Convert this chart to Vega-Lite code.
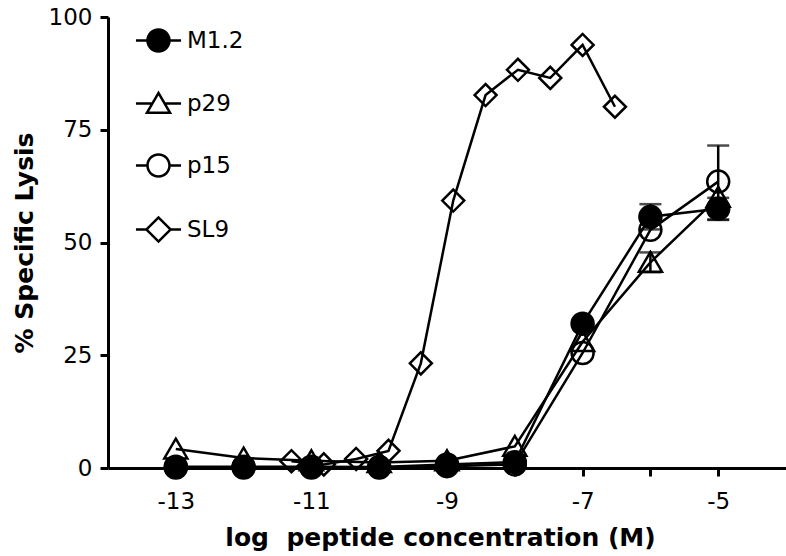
{
  "$schema": "https://vega.github.io/schema/vega-lite/v6.json",
  "width": 678,
  "height": 451,
  "autosize": {"type": "none"},
  "padding": {"left": 108, "top": 17, "right": 0, "bottom": 88},
  "background": "white",
  "config": {
    "view": {"stroke": null},
    "font": "DejaVu Sans",
    "axis": {
      "grid": false,
      "ticks": true,
      "domainColor": "black",
      "domainWidth": 3,
      "tickColor": "black",
      "tickWidth": 3,
      "tickSize": 8,
      "labelFont": "DejaVu Sans",
      "labelFontSize": 23,
      "labelColor": "black",
      "titleFont": "DejaVu Sans",
      "titleFontSize": 25,
      "titleFontWeight": "bold",
      "titleColor": "black"
    },
    "legend": {
      "labelFont": "DejaVu Sans",
      "labelFontSize": 23,
      "labelColor": "black"
    }
  },
  "datasets": {
    "pts": [
      {"series": "SL9", "logc": -11.294, "lysis": 1.5},
      {"series": "SL9", "logc": -10.817, "lysis": 0.8},
      {"series": "SL9", "logc": -10.340, "lysis": 2.0},
      {"series": "SL9", "logc": -9.863, "lysis": 3.8},
      {"series": "SL9", "logc": -9.386, "lysis": 23.2},
      {"series": "SL9", "logc": -8.908, "lysis": 59.3},
      {"series": "SL9", "logc": -8.431, "lysis": 82.7},
      {"series": "SL9", "logc": -7.954, "lysis": 88.3},
      {"series": "SL9", "logc": -7.477, "lysis": 86.5},
      {"series": "SL9", "logc": -7.0, "lysis": 93.8},
      {"series": "SL9", "logc": -6.523, "lysis": 80.1},
      {"series": "p15", "logc": -13, "lysis": 0.1},
      {"series": "p15", "logc": -12, "lysis": 0.1},
      {"series": "p15", "logc": -11, "lysis": 0.1},
      {"series": "p15", "logc": -10, "lysis": 0.1},
      {"series": "p15", "logc": -9, "lysis": 0.4},
      {"series": "p15", "logc": -8, "lysis": 0.8},
      {"series": "p15", "logc": -7, "lysis": 25.5},
      {"series": "p15", "logc": -6, "lysis": 52.8},
      {"series": "p15", "logc": -5, "lysis": 63.5},
      {"series": "p29", "logc": -13, "lysis": 4.2},
      {"series": "p29", "logc": -12, "lysis": 2.2},
      {"series": "p29", "logc": -11, "lysis": 1.6},
      {"series": "p29", "logc": -10, "lysis": 1.2},
      {"series": "p29", "logc": -9, "lysis": 1.6},
      {"series": "p29", "logc": -8, "lysis": 4.8},
      {"series": "p29", "logc": -7, "lysis": 28},
      {"series": "p29", "logc": -6, "lysis": 45.6},
      {"series": "p29", "logc": -5, "lysis": 60},
      {"series": "M1.2", "logc": -13, "lysis": 0.3},
      {"series": "M1.2", "logc": -12, "lysis": 0.3},
      {"series": "M1.2", "logc": -11, "lysis": 0.3},
      {"series": "M1.2", "logc": -10, "lysis": 0.2},
      {"series": "M1.2", "logc": -9, "lysis": 0.8},
      {"series": "M1.2", "logc": -8, "lysis": 1.3},
      {"series": "M1.2", "logc": -7, "lysis": 32},
      {"series": "M1.2", "logc": -6, "lysis": 55.7},
      {"series": "M1.2", "logc": -5, "lysis": 57.5}
    ],
    "err": [
      {"series": "M1.2", "logc": -6, "lo": 52.9, "hi": 58.5},
      {"series": "M1.2", "logc": -5, "lo": 55.1, "hi": 59.9},
      {"series": "p29", "logc": -6, "lo": 43.4, "hi": 47.8},
      {"series": "p15", "logc": -5, "lo": 55.0, "hi": 71.5}
    ]
  },
  "layer": [
    {
      "data": {"name": "err"},
      "mark": {"type": "rule", "stroke": "black", "strokeWidth": 2.5},
      "encoding": {
        "x": {"field": "logc", "type": "quantitative", "scale": {"domain": [-14, -4], "nice": false, "zero": false},
          "axis": {
            "values": [-13, -12, -11, -10, -9, -8, -7, -6, -5],
            "ticks": true,
            "tickSize": 8,
            "labelExpr": "datum.value % 2 == 0 ? '' : '' + datum.value",
            "labelPadding": 14,
            "title": "log\u00a0 peptide concentration (M)",
            "titleX": 332,
            "titleY": 77,
            "titleAlign": "center",
            "titleBaseline": "alphabetic"
          }},
        "y": {"field": "lo", "type": "quantitative", "scale": {"domain": [0, 100], "nice": false},
          "axis": {
            "values": [0, 25, 50, 75, 100],
            "labelPadding": 8,
            "title": "% Specific Lysis",
            "titleX": -76,
            "titleBaseline": "alphabetic"
          }},
        "y2": {"field": "hi"}
      }
    },
    {
      "data": {"name": "err"},
      "mark": {"type": "tick", "orient": "horizontal", "color": "black", "size": 22, "thickness": 2.5},
      "encoding": {
        "x": {"field": "logc", "type": "quantitative"},
        "y": {"field": "lo", "type": "quantitative"}
      }
    },
    {
      "data": {"name": "err"},
      "mark": {"type": "tick", "orient": "horizontal", "color": "black", "size": 22, "thickness": 2.5},
      "encoding": {
        "x": {"field": "logc", "type": "quantitative"},
        "y": {"field": "hi", "type": "quantitative"}
      }
    },
    {
      "data": {"name": "pts"},
      "mark": {"type": "line", "stroke": "black", "strokeWidth": 2.5},
      "encoding": {
        "x": {"field": "logc", "type": "quantitative"},
        "y": {"field": "lysis", "type": "quantitative"},
        "detail": {"field": "series"}
      }
    },
    {
      "data": {"name": "pts"},
      "mark": {"type": "point", "stroke": "black", "strokeWidth": 2.5, "size": 484, "opacity": 1},
      "encoding": {
        "x": {"field": "logc", "type": "quantitative"},
        "y": {"field": "lysis", "type": "quantitative"},
        "shape": {"field": "series", "type": "nominal",
          "scale": {"domain": ["M1.2", "p29", "p15", "SL9"], "range": ["circle", "M0,-0.95L1.05,0.85L-1.05,0.85Z", "circle", "diamond"]},
          "legend": null},
        "fill": {"field": "series", "type": "nominal",
          "scale": {"domain": ["M1.2", "p29", "p15", "SL9"], "range": ["black", "transparent", "transparent", "transparent"]},
          "legend": null}
      }
    },
    {
      "data": {"name": "pts"},
      "mark": {"type": "point", "filled": true, "fill": "black", "strokeWidth": 0, "size": 484, "opacity": 0},
      "encoding": {
        "x": {"field": "logc", "type": "quantitative"},
        "y": {"field": "lysis", "type": "quantitative"},
        "shape": {"field": "series", "type": "nominal",
          "scale": {"domain": ["M1.2", "p29", "p15", "SL9"], "range": [
            "M-2.05,-0.114H-1V0.114H-2.05Z M1,-0.114H2.05V0.114H1Z M1.114,0A1.114,1.114,0,1,1,-1.114,0A1.114,1.114,0,1,1,1.114,0Z",
            "M-2.05,-0.114H-0.55V0.114H-2.05Z M0.55,-0.114H2.05V0.114H0.55Z M0,-1.176L1.248,0.964L-1.248,0.964Z M0,-0.724L-0.852,0.736L0.852,0.736Z",
            "M-2.05,-0.114H-1V0.114H-2.05Z M1,-0.114H2.05V0.114H1Z M1.114,0A1.114,1.114,0,1,1,-1.114,0A1.114,1.114,0,1,1,1.114,0Z M0.886,0A0.886,0.886,0,1,0,-0.886,0A0.886,0.886,0,1,0,0.886,0Z",
            "M-2.05,-0.114H-1.1V0.114H-2.05Z M1.1,-0.114H2.05V0.114H1.1Z M-1.261,0L0,-1.261L1.261,0L0,1.261Z M-0.939,0L0,0.939L0.939,0L0,-0.939Z"
          ]},
          "legend": {
            "title": null,
            "orient": "none",
            "legendX": 39,
            "legendY": 12,
            "padding": 0,
            "symbolSize": 484,
            "symbolFillColor": "black",
            "symbolStrokeWidth": 0,
            "symbolOpacity": 1,
            "rowPadding": 37,
            "labelOffset": 17
          }}
      }
    }
  ],
  "resolve": {"scale": {"fill": "independent", "shape": "independent"}}
}
